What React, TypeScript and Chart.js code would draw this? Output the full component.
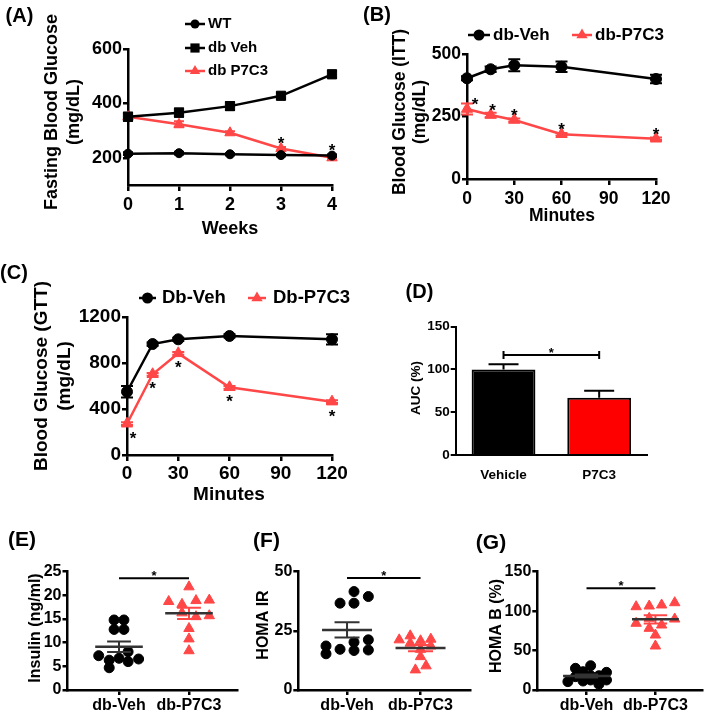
import { useEffect, useRef } from 'react';
import { Chart, registerables } from 'chart.js';

Chart.register(...registerables);

const PAGE_W = 709;
const PAGE_H = 714;
const FF = '"Liberation Sans", Arial, Helvetica, sans-serif';
const RED = '#ff4747';
const BAR_RED = '#ff0000';
const MEAN_GREY = '#333333';

// ---------- (A) fasting blood glucose ----------
const weeks = [0, 1, 2, 3, 4];
const weekTicks = [0, 1, 2, 3, 4];
const aYTicks = [200, 400, 600];
const wtFbg = [215, 217, 213, 210, 208];
const wtFbgErr = [5, 5, 4, 4, 4];
const vehFbg = [351, 366, 390, 428, 507];
const vehFbgErr = [15, 15, 14, 11, 13];
const p7Fbg = [351, 323, 292, 234, 200];
const p7FbgErr = [14, 11, 6, 6, 5];
const aStarIdx = [3, 4];

// ---------- (B) ITT ----------
const minutes = [0, 15, 30, 60, 120];
const timeTicks = [0, 30, 60, 90, 120];
const bYTicks = [0, 250, 500];
const vehItt = [403, 439, 455, 449, 400];
const vehIttErr = [8, 11, 24, 21, 17];
const p7Itt = [280, 256, 236, 179, 161];
const p7IttErr = [22, 9, 6, 5, 5];
const bStarIdx = [0, 1, 2, 3, 4];

// ---------- (C) GTT ----------
const cYTicks = [0, 400, 800, 1200];
const vehGtt = [550, 965, 1006, 1035, 1006];
const vehGttErr = [50, 14, 14, 14, 45];
const p7Gtt = [272, 702, 884, 589, 464];
const p7GttErr = [12, 12, 12, 12, 12];
const cStarIdx = [0, 1, 2, 3, 4];

// ---------- (D) AUC ----------
const aucLabels = ['Vehicle', 'P7C3'];
const aucValues = [100, 67];
const aucErr = [6, 8];
const dYTicks = [0, 50, 100, 150];
const aucSigLevel = 117;

// ---------- (E)(F)(G) scatter ----------
const groupLabels = ['db-Veh', 'db-P7C3'];

const eYTicks = [0, 5, 10, 15, 20, 25];
const insulinVeh = [14.8, 14.8, 12.8, 12.8, 7.25, 6.3, 6.7, 8.1, 6.0, 6.55, 4.7];
const insulinVehJit = [-0.07, 0.07, -0.07, 0.07, -0.29, -0.14, 0, 0.13, 0.13, 0.28, -0.14];
const insulinP7 = [21.8, 18.7, 18.9, 19.0, 18.1, 16.3, 15.5, 15.7, 13.0, 10.8, 8.3];
const insulinP7Jit = [0, -0.29, 0.1, 0.29, -0.1, -0.1, 0.1, 0.29, 0, 0, 0];
const insulinMean = [9.15, 16.2];
const insulinSem = [1.1, 1.2];
const insulinSig = 23.6;

const fYTicks = [0, 25, 50];
const homaIrVeh = [41.6, 36.7, 36.7, 39.5, 18.6, 15.3, 17.2, 20.2, 16.7, 21.2, 16.9];
const homaIrVehJit = [0.095, -0.095, 0.095, 0.29, -0.286, -0.286, -0.095, 0.095, 0.095, 0.29, 0.29];
const homaIrP7 = [21.2, 22.9, 19.8, 20.8, 21.5, 18.6, 17.2, 14.1, 10.2, 8.5];
const homaIrP7Jit = [-0.29, -0.14, -0.14, 0, 0.14, 0.14, 0, 0, 0.075, -0.07];
const homaIrMean = [25.4, 17.7];
const homaIrSem = [3.2, 1.3];
const homaIrSig = 47.3;

const gYTicks = [0, 50, 100, 150];
const homaBVeh = [30.8, 27.5, 23.2, 22.4, 16.9, 18.1, 18.1, 10.6, 11.4, 12.7, 12.7, 7.2];
const homaBVehJit = [0.06, -0.16, -0.05, 0.29, -0.16, 0.06, 0.18, -0.27, -0.05, 0.06, 0.29, 0.18];
const homaBP7 = [105.6, 106.5, 107.8, 110.7, 84.6, 90.9, 90.0, 82.4, 78.2, 69.7, 55.8];
const homaBP7Jit = [-0.28, -0.09, 0.09, 0.28, -0.28, -0.09, 0.28, 0.09, -0.09, 0, 0];
const homaBMean = [17.8, 89.6];
const homaBSem = [1.8, 5.3];
const homaBSig = 129;

// ---------------- helpers ----------------
type Area = { l: number; t: number; r: number; b: number };
const padFor = (a: Area, yW: number, xH: number) => ({
  left: a.l - yW,
  top: a.t,
  right: PAGE_W - a.r,
  bottom: PAGE_H - a.b - xH,
});
const font = (size: number) => ({ family: FF, size, weight: 'bold' as const });
const pts = (xs: number[], ys: number[]) => xs.map((x, i) => ({ x, y: ys[i] }));
const jit = (cat: number, j: number[], ys: number[]) => ys.map((y, i) => ({ x: cat + j[i], y }));

function axis(
  kind: 'x' | 'y',
  min: number,
  max: number,
  tickVals: number[],
  size: number,
  tickLen: number,
  pad: number,
  lw: number,
  fit: number,
  labels?: string[]
) {
  return {
    type: 'linear',
    min,
    max,
    afterBuildTicks: (s: any) => {
      s.ticks = tickVals.map((v) => ({ value: v }));
    },
    afterFit: (s: any) => {
      if (kind === 'x') s.height = fit;
      else s.width = fit;
    },
    grid: { display: true, drawOnChartArea: false, drawTicks: true, tickLength: tickLen, color: '#000', lineWidth: lw },
    border: { display: true, color: '#000', width: lw },
    ticks: {
      color: '#000',
      font: font(size),
      padding: pad,
      autoSkip: false,
      maxRotation: 0,
      callback: (v: number) => (labels ? labels[Math.round(v) - 1] : String(v)),
    },
  };
}

function baseOpts(padding: any) {
  return {
    responsive: false,
    animation: false,
    events: [],
    layout: { padding },
    plugins: { legend: { display: false }, tooltip: { enabled: false }, title: { display: false } },
  };
}

function lineDs(data: any[], color: string, style: string, r: number) {
  return {
    data,
    borderColor: color,
    backgroundColor: color,
    borderWidth: 2.5,
    pointStyle: style,
    pointRadius: r,
    pointHoverRadius: r,
    pointBackgroundColor: color,
    pointBorderColor: color,
    pointBorderWidth: 1,
    tension: 0,
    clip: false,
    fill: false,
  };
}

function scatterDs(data: any[], color: string, style: string, r: number) {
  return {
    data,
    pointStyle: style,
    pointRadius: r,
    pointHoverRadius: r,
    pointBackgroundColor: color,
    pointBorderColor: color,
    pointBorderWidth: 1,
    showLine: false,
    clip: false,
  };
}

function text(ctx: CanvasRenderingContext2D, s: string, x: number, y: number, size: number, rot = 0, align: CanvasTextAlign = 'center') {
  ctx.save();
  ctx.font = `bold ${size}px ${FF}`;
  ctx.fillStyle = '#000';
  ctx.textAlign = align;
  ctx.textBaseline = 'middle';
  ctx.translate(x, y);
  ctx.rotate(rot);
  ctx.fillText(s, 0, 0);
  ctx.restore();
}

function star(ctx: CanvasRenderingContext2D, x: number, cy: number, size: number) {
  ctx.save();
  ctx.font = `bold ${size}px ${FF}`;
  ctx.fillStyle = '#000';
  ctx.textAlign = 'center';
  ctx.textBaseline = 'alphabetic';
  ctx.fillText('*', x, cy + 0.58 * size);
  ctx.restore();
}

function marker(ctx: CanvasRenderingContext2D, style: string, x: number, y: number, r: number, color: string) {
  ctx.save();
  ctx.fillStyle = color;
  ctx.beginPath();
  if (style === 'circle') {
    ctx.arc(x, y, r, 0, Math.PI * 2);
  } else if (style === 'rect') {
    const s = r * Math.SQRT1_2;
    ctx.rect(x - s, y - s, 2 * s, 2 * s);
  } else {
    for (let k = 0; k < 3; k++) {
      const a = (k * 2 * Math.PI) / 3;
      const px = x + Math.sin(a) * r;
      const py = y - Math.cos(a) * r;
      if (k === 0) ctx.moveTo(px, py);
      else ctx.lineTo(px, py);
    }
    ctx.closePath();
  }
  ctx.fill();
  ctx.restore();
}

function legendItem(
  ctx: CanvasRenderingContext2D,
  x1: number,
  x2: number,
  y: number,
  color: string,
  style: string,
  r: number,
  label: string,
  tx: number,
  size: number
) {
  ctx.save();
  ctx.strokeStyle = color;
  ctx.lineWidth = 2.5;
  ctx.beginPath();
  ctx.moveTo(x1, y);
  ctx.lineTo(x2, y);
  ctx.stroke();
  ctx.restore();
  marker(ctx, style, (x1 + x2) / 2, y, r, color);
  text(ctx, label, tx, y, size, 0, 'left');
}

function errBars(chart: any, xs: number[], ys: number[], errs: number[], color: string, cap: number, lw: number, upOnly = false) {
  const { ctx, scales } = chart;
  const sx = scales.x;
  const sy = scales.y;
  ctx.save();
  ctx.strokeStyle = color;
  ctx.lineWidth = lw;
  xs.forEach((xv, i) => {
    const px = sx.getPixelForValue(xv);
    const top = sy.getPixelForValue(ys[i] + errs[i]);
    const bot = upOnly ? sy.getPixelForValue(ys[i]) : sy.getPixelForValue(ys[i] - errs[i]);
    ctx.beginPath();
    ctx.moveTo(px, top);
    ctx.lineTo(px, bot);
    ctx.moveTo(px - cap, top);
    ctx.lineTo(px + cap, top);
    if (!upOnly) {
      ctx.moveTo(px - cap, bot);
      ctx.lineTo(px + cap, bot);
    }
    ctx.stroke();
  });
  ctx.restore();
}

function meanSem(chart: any, cat: number, mean: number, sem: number, meanColor: string, semColor: string) {
  const { ctx, scales } = chart;
  const sx = scales.x;
  const sy = scales.y;
  const xl = sx.getPixelForValue(cat - 0.34);
  const xr = sx.getPixelForValue(cat + 0.34);
  const sl = sx.getPixelForValue(cat - 0.17);
  const sr = sx.getPixelForValue(cat + 0.17);
  const xc = sx.getPixelForValue(cat);
  const pm = sy.getPixelForValue(mean);
  const pt = sy.getPixelForValue(mean + sem);
  const pb = sy.getPixelForValue(mean - sem);
  ctx.save();
  ctx.lineWidth = 2;
  ctx.strokeStyle = semColor;
  ctx.beginPath();
  ctx.moveTo(sl, pt);
  ctx.lineTo(sr, pt);
  ctx.moveTo(sl, pb);
  ctx.lineTo(sr, pb);
  ctx.moveTo(xc, pt);
  ctx.lineTo(xc, pb);
  ctx.stroke();
  ctx.strokeStyle = meanColor;
  ctx.lineWidth = 2.5;
  ctx.beginPath();
  ctx.moveTo(xl, pm);
  ctx.lineTo(xr, pm);
  ctx.stroke();
  ctx.restore();
}

function sigLine(chart: any, x1: number, x2: number, level: number, starSize: number, caps: number) {
  const { ctx, scales } = chart;
  const p1 = scales.x.getPixelForValue(x1);
  const p2 = scales.x.getPixelForValue(x2);
  const py = scales.y.getPixelForValue(level);
  ctx.save();
  ctx.strokeStyle = '#000';
  ctx.lineWidth = 2;
  ctx.beginPath();
  ctx.moveTo(p1, py);
  ctx.lineTo(p2, py);
  if (caps > 0) {
    ctx.moveTo(p1, py - caps);
    ctx.lineTo(p1, py + caps);
    ctx.moveTo(p2, py - caps);
    ctx.lineTo(p2, py + caps);
  }
  ctx.stroke();
  ctx.restore();
  star(ctx, (p1 + p2) / 2, py - 5.5, starSize);
}

// ---------------- chart builders ----------------
function makeA(canvas: HTMLCanvasElement) {
  const area = { l: 128, t: 49, r: 332, b: 185 };
  const deco = {
    id: 'decoA',
    beforeDatasetsDraw(chart: any) {
      errBars(chart, weeks, p7Fbg, p7FbgErr, RED, 5, 2);
      errBars(chart, weeks, vehFbg, vehFbgErr, '#000', 5, 2);
      errBars(chart, weeks, wtFbg, wtFbgErr, '#000', 5, 2);
    },
    afterDraw(chart: any) {
      const ctx = chart.ctx;
      text(ctx, '(A)', 19.5, 16, 20);
      text(ctx, 'Fasting Blood Glucose', 52, 112, 18, -Math.PI / 2);
      text(ctx, '(mg/dL)', 74, 112, 18, -Math.PI / 2);
      text(ctx, 'Weeks', 230, 229, 18);
      legendItem(ctx, 185, 205, 24, '#000', 'circle', 4.5, 'WT', 208, 15);
      legendItem(ctx, 185, 205, 48, '#000', 'rect', 6.5, 'db Veh', 208, 15);
      legendItem(ctx, 185, 205, 71, RED, 'triangle', 6, 'db P7C3', 208, 15);
      const sx = chart.scales.x;
      const sy = chart.scales.y;
      aStarIdx.forEach((i) => {
        const top = Math.min(sy.getPixelForValue(p7Fbg[i] + p7FbgErr[i]), sy.getPixelForValue(wtFbg[i] + wtFbgErr[i]));
        star(ctx, sx.getPixelForValue(weeks[i]), top - 8, 17);
      });
    },
  };
  return new Chart(canvas, {
    type: 'line',
    data: {
      datasets: [
        lineDs(pts(weeks, wtFbg), '#000', 'circle', 4.5),
        lineDs(pts(weeks, vehFbg), '#000', 'rect', 6.5),
        lineDs(pts(weeks, p7Fbg), RED, 'triangle', 6),
      ],
    },
    options: {
      ...baseOpts(padFor(area, 50, 40)),
      scales: {
        x: axis('x', 0, 4, weekTicks, 18, 6, 3, 2.5, 40),
        y: axis('y', 100, 600, aYTicks, 18, 5, 1, 2.5, 50),
      },
    } as any,
    plugins: [deco],
  } as any);
}

function makeB(canvas: HTMLCanvasElement) {
  const area = { l: 467, t: 54, r: 656, b: 179 };
  const deco = {
    id: 'decoB',
    beforeDatasetsDraw(chart: any) {
      errBars(chart, minutes, p7Itt, p7IttErr, RED, 6, 2);
      errBars(chart, minutes, vehItt, vehIttErr, '#000', 6, 2);
    },
    afterDraw(chart: any) {
      const ctx = chart.ctx;
      text(ctx, '(B)', 377, 15, 20);
      text(ctx, 'Blood Glucose (ITT)', 400, 112, 17.5, -Math.PI / 2);
      text(ctx, '(mg/dL)', 420, 112, 17.5, -Math.PI / 2);
      text(ctx, 'Minutes', 562, 216, 17.5);
      legendItem(ctx, 468, 490, 35, '#000', 'circle', 5.5, 'db-Veh', 493, 17);
      legendItem(ctx, 572, 592, 35, RED, 'triangle', 6.5, 'db-P7C3', 595, 17);
      const sx = chart.scales.x;
      const sy = chart.scales.y;
      bStarIdx.forEach((i) => {
        const dx = i === 0 ? 8 : i === 1 ? 2 : 0;
        star(ctx, sx.getPixelForValue(minutes[i]) + dx, sy.getPixelForValue(p7Itt[i]) - 9, 17);
      });
    },
  };
  return new Chart(canvas, {
    type: 'line',
    data: {
      datasets: [lineDs(pts(minutes, vehItt), '#000', 'circle', 5.5), lineDs(pts(minutes, p7Itt), RED, 'triangle', 6.5)],
    },
    options: {
      ...baseOpts(padFor(area, 50, 40)),
      scales: {
        x: axis('x', 0, 120, timeTicks, 17.5, 6, 4, 2.5, 40),
        y: axis('y', 0, 500, bYTicks, 17.5, 5, 1, 2.5, 50),
      },
    } as any,
    plugins: [deco],
  } as any);
}

function makeC(canvas: HTMLCanvasElement) {
  const area = { l: 127, t: 317, r: 332, b: 455 };
  const deco = {
    id: 'decoC',
    beforeDatasetsDraw(chart: any) {
      errBars(chart, minutes, p7Gtt, p7GttErr, RED, 6, 2);
      errBars(chart, minutes, vehGtt, vehGttErr, '#000', 6, 2);
    },
    afterDraw(chart: any) {
      const ctx = chart.ctx;
      text(ctx, '(C)', 14, 273, 20);
      text(ctx, 'Blood Glucose (GTT)', 42, 376, 19, -Math.PI / 2);
      text(ctx, '(mg/dL)', 65, 376, 19, -Math.PI / 2);
      text(ctx, 'Minutes', 229, 495, 19);
      legendItem(ctx, 139, 156, 298, '#000', 'circle', 5.5, 'Db-Veh', 162, 18.5);
      legendItem(ctx, 248, 266, 298, RED, 'triangle', 6.5, 'Db-P7C3', 273, 18.5);
      const sx = chart.scales.x;
      const sy = chart.scales.y;
      cStarIdx.forEach((i) => {
        const dx = i === 0 ? 6 : 0;
        star(ctx, sx.getPixelForValue(minutes[i]) + dx, sy.getPixelForValue(p7Gtt[i]) + 10, 17);
      });
    },
  };
  return new Chart(canvas, {
    type: 'line',
    data: {
      datasets: [lineDs(pts(minutes, vehGtt), '#000', 'circle', 5.5), lineDs(pts(minutes, p7Gtt), RED, 'triangle', 6.5)],
    },
    options: {
      ...baseOpts(padFor(area, 50, 30)),
      scales: {
        x: axis('x', 0, 120, timeTicks, 19, 6, 1, 2.5, 30),
        y: axis('y', 0, 1200, cYTicks, 19, 5, 1, 2.5, 50),
      },
    } as any,
    plugins: [deco],
  } as any);
}

function makeD(canvas: HTMLCanvasElement) {
  const area = { l: 455.7, t: 326.7, r: 647, b: 455 };
  const deco = {
    id: 'decoD',
    afterDatasetsDraw(chart: any) {
      errBars(chart, [0, 1], aucValues, aucErr, '#000', 15, 2, true);
    },
    afterDraw(chart: any) {
      const ctx = chart.ctx;
      text(ctx, '(D)', 419.5, 292, 20);
      text(ctx, 'AUC (%)', 416.5, 388, 13.5, -Math.PI / 2);
      sigLine(chart, 0, 1, aucSigLevel, 13, 4);
    },
  };
  const yAx = axis('y', 0, 150, dYTicks, 13.5, 5, 1, 2, 40);
  return new Chart(canvas, {
    type: 'bar',
    data: {
      labels: aucLabels,
      datasets: [
        {
          data: aucValues,
          backgroundColor: ['#000000', BAR_RED],
          borderColor: '#000',
          borderWidth: 2,
          barPercentage: 0.667,
          categoryPercentage: 1,
        },
      ],
    },
    options: {
      ...baseOpts(padFor(area, 40, 30)),
      scales: {
        x: {
          type: 'category',
          offset: true,
          afterFit: (s: any) => {
            s.height = 30;
          },
          grid: { display: false },
          border: { display: true, color: '#000', width: 2 },
          ticks: { color: '#000', font: font(13.5), padding: 4, maxRotation: 0 },
        },
        y: yAx,
      },
    } as any,
    plugins: [deco],
  } as any);
}

function makeScatter(
  canvas: HTMLCanvasElement,
  id: string,
  area: Area,
  xMin: number,
  xMax: number,
  yMax: number,
  yTicks: number[],
  veh: number[],
  vehJ: number[],
  p7: number[],
  p7J: number[],
  mean: number[],
  sem: number[],
  sig: number,
  panel: string,
  panelPos: [number, number],
  title: string,
  titlePos: [number, number]
) {
  const deco = {
    id,
    afterDatasetsDraw(chart: any) {
      meanSem(chart, 1, mean[0], sem[0], MEAN_GREY, MEAN_GREY);
      meanSem(chart, 2, mean[1], sem[1], MEAN_GREY, RED);
    },
    afterDraw(chart: any) {
      const ctx = chart.ctx;
      text(ctx, panel, panelPos[0], panelPos[1], 21);
      text(ctx, title, titlePos[0], titlePos[1], 16, -Math.PI / 2);
      sigLine(chart, 1, 2, sig, 13, 0);
    },
  };
  return new Chart(canvas, {
    type: 'scatter',
    data: {
      datasets: [scatterDs(jit(1, vehJ, veh), '#000', 'circle', 5), scatterDs(jit(2, p7J, p7), RED, 'triangle', 6)],
    },
    options: {
      ...baseOpts(padFor(area, 40, 24)),
      scales: {
        x: axis('x', xMin, xMax, [1, 2], 16, 5, 1, 2.5, 24, groupLabels),
        y: axis('y', 0, yMax, yTicks, 16, 5, 1, 2.5, 40),
      },
    } as any,
    plugins: [deco],
  } as any);
}

const makeE = (c: HTMLCanvasElement) =>
  makeScatter(c, 'decoE', { l: 67.5, t: 571.7, r: 237, b: 690 }, 0.264, 2.686, 25, eYTicks, insulinVeh, insulinVehJit, insulinP7, insulinP7Jit, insulinMean, insulinSem, insulinSig, '(E)', [22, 540], 'Insulin (ng/ml)', [36, 628]);
const makeF = (c: HTMLCanvasElement) =>
  makeScatter(c, 'decoF', { l: 298.3, t: 571.7, r: 470, b: 690 }, 0.337, 2.673, 50, fYTicks, homaIrVeh, homaIrVehJit, homaIrP7, homaIrP7Jit, homaIrMean, homaIrSem, homaIrSig, '(F)', [266.5, 541.7], 'HOMA IR', [263.5, 625]);
const makeG = (c: HTMLCanvasElement) =>
  makeScatter(c, 'decoG', { l: 537.3, t: 571.7, r: 707, b: 690 }, 0.286, 2.676, 150, gYTicks, homaBVeh, homaBVehJit, homaBP7, homaBP7Jit, homaBMean, homaBSem, homaBSig, '(G)', [491, 543], 'HOMA B (%)', [497, 626]);

function Panel({ make }: { make: (c: HTMLCanvasElement) => Chart }) {
  const ref = useRef<HTMLCanvasElement>(null);
  useEffect(() => {
    const chart = make(ref.current as HTMLCanvasElement);
    return () => chart.destroy();
  }, [make]);
  return (
    <canvas
      ref={ref}
      width={PAGE_W}
      height={PAGE_H}
      style={{ position: 'absolute', left: 0, top: 0, width: PAGE_W, height: PAGE_H }}
    />
  );
}

export default function App() {
  return (
    <div style={{ position: 'absolute', left: 0, top: 0, width: PAGE_W, height: PAGE_H, background: '#fff', overflow: 'hidden' }}>
      <Panel make={makeA} />
      <Panel make={makeB} />
      <Panel make={makeC} />
      <Panel make={makeD} />
      <Panel make={makeE} />
      <Panel make={makeF} />
      <Panel make={makeG} />
    </div>
  );
}
